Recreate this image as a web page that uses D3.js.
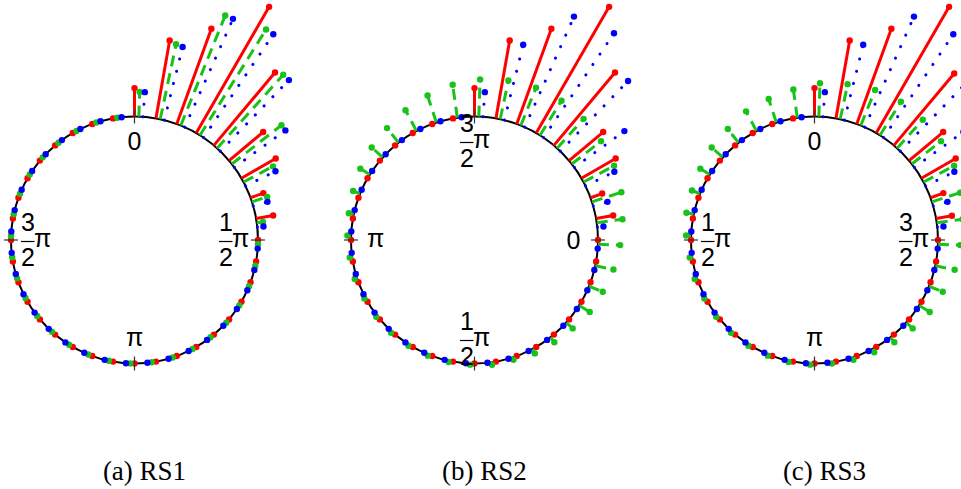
<!DOCTYPE html>
<html>
<head>
<meta charset="utf-8">
<script src="https://cdn.jsdelivr.net/npm/d3@7"></script>
<style>
  html, body { margin: 0; padding: 0; background: #fff; }
  svg { display: block; }
</style>
</head>
<body>
<div id="stage"></div>
<script>
// stem angles (deg) in each panel's own convention, listed clockwise on screen from the top
const thetaA = [0, 10, 20, 30, 40, 50, 60, 70, 80, 90, 100, 110, 120, 130, 140, 150, 160, 170,
                180, 190, 200, 210, 220, 230, 240, 250, 260, 270, 280, 290, 300, 310, 320, 330, 340, 350];
const thetaB = [270, 280, 290, 300, 310, 320, 330, 340, 350, 0, 10, 20, 30, 40, 50, 60, 70, 80,
                90, 100, 110, 120, 130, 140, 150, 160, 170, 180, 190, 200, 210, 220, 230, 240, 250, 260];
const thetaC = [0, 350, 340, 330, 320, 310, 300, 290, 280, 270, 260, 250, 240, 230, 220, 210, 200, 190,
                180, 170, 160, 150, 140, 130, 120, 110, 100, 90, 80, 70, 60, 50, 40, 30, 20, 10];

// stem lengths, in units of the circle radius
const redA = [0.23, 0.64, 0.82, 1.18, 0.77, 0.36, 0.32, 0.11, 0.14, 0, 0, 0, 0, 0, 0, 0, 0, 0,
              0, 0, 0, 0, 0, 0, 0, 0, 0, 0, 0, 0, 0, 0, 0, 0, 0, 0];
const greenA = [0.20, 0.62, 0.96, 1.01, 0.80, 0.51, 0.27, 0.13, 0.05, 0, 0, 0, 0, 0, 0, 0, 0, 0,
                0, 0, 0, 0, 0, 0, 0, 0, 0, 0, 0, 0, 0, 0, 0, 0, 0, 0];
const blueA = [0.20, 0.61, 0.96, 1.01, 0.80, 0.51, 0.27, 0.12, 0.05, 0, 0, 0, 0, 0, 0, 0, 0, 0,
               0, 0, 0, 0, 0, 0, 0, 0, 0, 0, 0, 0, 0, 0, 0, 0, 0, 0];

const redB = [0.23, 0.64, 0.82, 1.18, 0.77, 0.36, 0.32, 0.10, 0.14, 0, 0, 0, 0, 0, 0, 0, 0, 0,
              0, 0, 0, 0, 0, 0, 0, 0, 0, 0, 0, 0, 0, 0, 0, 0, 0, 0];
const greenB = [0.30, 0.32, 0.33, 0.33, 0.32, 0.30, 0.28, 0.25, 0.21, 0.18, 0.15, 0.12, 0.10, 0.07, 0.05, 0.04, 0.02, 0.02,
                0.01, 0.01, 0.01, 0.01, 0.01, 0.01, 0.01, 0.02, 0.02, 0.03, 0.04, 0.06, 0.09, 0.12, 0.15, 0.19, 0.23, 0.27];
const blueB = [0.20, 0.63, 0.98, 1.02, 0.79, 0.50, 0.26, 0.12, 0.05, 0, 0, 0, 0, 0, 0, 0, 0, 0,
               0, 0, 0, 0, 0, 0, 0, 0, 0, 0, 0, 0, 0, 0, 0, 0, 0, 0];

const redC = [0.23, 0.64, 0.82, 1.18, 0.76, 0.36, 0.32, 0.11, 0.13, 0, 0, 0, 0, 0, 0, 0, 0, 0,
              0, 0, 0, 0, 0, 0, 0, 0, 0, 0, 0, 0, 0, 0, 0, 0, 0, 0];
const greenC = [0.27, 0.29, 0.31, 0.32, 0.31, 0.30, 0.28, 0.24, 0.21, 0.18, 0.16, 0.12, 0.10, 0.07, 0.05, 0.03, 0.02, 0.01,
                0.01, 0.01, 0.01, 0.01, 0.01, 0.01, 0.01, 0.02, 0.02, 0.04, 0.06, 0.07, 0.09, 0.12, 0.14, 0.18, 0.20, 0.23];
const blueC = [0.20, 0.63, 0.98, 1.01, 0.79, 0.49, 0.26, 0.12, 0.05, 0, 0, 0, 0, 0, 0, 0, 0, 0,
               0, 0, 0, 0, 0, 0, 0, 0, 0, 0, 0, 0, 0, 0, 0, 0, 0, 0];

// axis ticks and their labels (numerator, denominator, symbol)
const tickAngles = [0, 90, 180, 270];
const tickLabels = [['0'], ['1', '2', 'π'], ['π'], ['3', '2', 'π']];

const captions = ['(a) RS1', '(b) RS2', '(c) RS3'];

const panels = [
    {theta: thetaA, red: redA, green: greenA, blue: blueA, start: 0, dir: 1},
    {theta: thetaB, red: redB, green: greenB, blue: blueB, start: 90, dir: 1},
    {theta: thetaC, red: redC, green: greenC, blue: blueC, start: 0, dir: -1}
];

const series = [
    {key: 'red', color: '#ff0000', shift: 0, dash: null, cap: 'butt'},
    {key: 'green', color: '#19c219', shift: 2, dash: '11,7', cap: 'butt'},
    {key: 'blue', color: '#0000ff', shift: 4, dash: '0.1,12.5', cap: 'round'}
];

const width = 961;
const height = 489;
const R = 123.5;
const deg = Math.PI / 180;

const svg = d3.select('#stage')
                .append('svg')
                .attr('width', width)
                .attr('height', height)
                .attr('viewBox', [0, 0, width, height]);

panels.forEach((p, i) => {
    const cx = 134.5 + 340 * i;
    const cy = 240;
    const g = svg.append('g').attr('transform', `translate(${cx},${cy})`);

    const ang = d3.scaleLinear()
                    .domain([0, 360])
                    .range([p.start * deg, p.start * deg + p.dir * 2 * Math.PI]);
    const rad = d3.scaleLinear().domain([0, 1]).range([R, 2 * R]);

    g.append('circle')
        .attr('r', rad(0))
        .attr('fill', 'none')
        .attr('stroke', '#000')
        .attr('stroke-width', 2);

    // stems and their end markers, one series at a time
    series.forEach(s => {
        const pts = p.theta.map((t, j) => ({a: ang(t) + s.shift * deg, v: p[s.key][j]}));

        g.append('g')
            .attr('stroke', s.color)
            .attr('stroke-width', 3)
            .attr('stroke-linecap', s.cap)
            .attr('stroke-dasharray', s.dash)
            .selectAll('line')
            .data(pts.filter(d => d.v > 0))
            .join('line')
            .attr('x1', d => d3.pointRadial(d.a, rad(0))[0])
            .attr('y1', d => d3.pointRadial(d.a, rad(0))[1])
            .attr('x2', d => d3.pointRadial(d.a, rad(d.v))[0])
            .attr('y2', d => d3.pointRadial(d.a, rad(d.v))[1]);

        g.append('g')
            .attr('fill', s.color)
            .selectAll('circle')
            .data(pts)
            .join('circle')
            .attr('r', 3.2)
            .attr('cx', d => d3.pointRadial(d.a, rad(d.v))[0])
            .attr('cy', d => d3.pointRadial(d.a, rad(d.v))[1]);
    });

    // tick crosses on the circle
    g.append('g')
        .attr('stroke', '#333')
        .attr('stroke-width', 1.2)
        .selectAll('line')
        .data(tickAngles)
        .join('line')
        .attr('x1', d => d3.pointRadial(ang(d), rad(0) - 7)[0])
        .attr('y1', d => d3.pointRadial(ang(d), rad(0) - 7)[1])
        .attr('x2', d => d3.pointRadial(ang(d), rad(0) + 7)[0])
        .attr('y2', d => d3.pointRadial(ang(d), rad(0) + 7)[1]);

    // tick labels, set inside the circle
    tickAngles.forEach((t, j) => {
        const [lx, ly] = d3.pointRadial(ang(t), rad(0) - 24.5);
        const lab = tickLabels[j];
        const lg = g.append('g')
                     .attr('transform', `translate(${lx},${ly})`)
                     .style('font-family', '"Liberation Sans", Arial, sans-serif')
                     .style('font-size', '25px');
        if (lab.length === 1) {
            lg.append('text')
                .attr('text-anchor', 'middle')
                .attr('y', lab[0] === 'π' ? 6.5 : 9)
                .text(lab[0]);
        } else {
            lg.append('text').attr('x', -7.5).attr('y', -9.5).attr('text-anchor', 'middle').text(lab[0]);
            lg.append('line')
                .attr('x1', -14.5).attr('x2', -1)
                .attr('y1', 1.5).attr('y2', 1.5)
                .attr('stroke', '#000').attr('stroke-width', 1.2);
            lg.append('text').attr('x', -7.5).attr('y', 26).attr('text-anchor', 'middle').text(lab[1]);
            lg.append('text').attr('x', -1.5).attr('y', 6.5).text(lab[2]);
        }
    });

    svg.append('text')
        .attr('x', cx + 10)
        .attr('y', 480)
        .attr('text-anchor', 'middle')
        .style('font-family', '"Liberation Serif", "DejaVu Serif", serif')
        .style('font-size', '27px')
        .text(captions[i]);
});
</script>
</body>
</html>
